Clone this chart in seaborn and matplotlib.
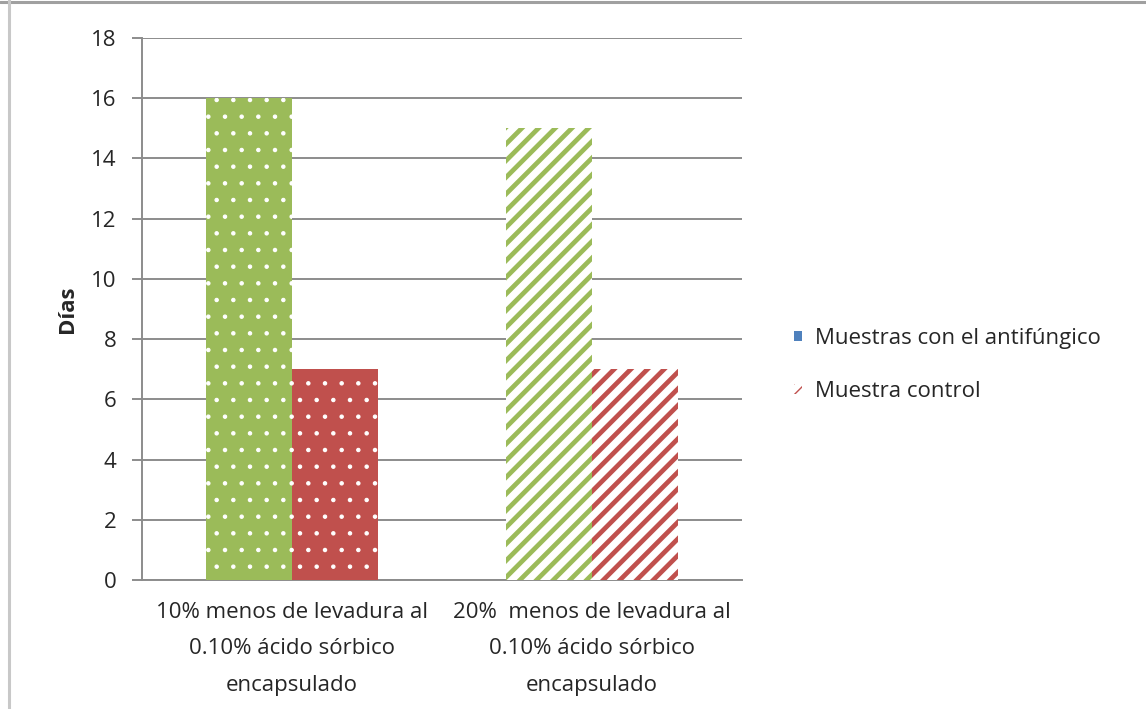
import matplotlib
matplotlib.use("Agg")
import matplotlib.pyplot as plt
from matplotlib.patches import Patch
from matplotlib.lines import Line2D
import seaborn as sns
import pandas as pd

# Data
categories = [
    "10% menos de levadura al\n0.10% ácido sórbico\nencapsulado",
    "20%  menos de levadura al\n0.10% ácido sórbico\nencapsulado",
]
series = ["Muestras con el antifúngico", "Muestra control"]
antifungico = [16, 15]
control = [7, 7]
y_ticks = [0, 2, 4, 6, 8, 10, 12, 14, 16, 18]
y_label = "Días"

green = "#9BBB59"
red = "#C0504D"
blue = "#4F81BD"
grid_gray = "#8C8C8C"
text_col = "#262626"
fs = 16

df = pd.DataFrame({
    "grupo": categories * 2,
    "serie": [series[0]] * 2 + [series[1]] * 2,
    "dias": antifungico + control,
})

sns.set_theme(style="white")
plt.rcParams["font.family"] = ["Open Sans", "DejaVu Sans"]

fig = plt.figure(figsize=(11.46, 7.09), dpi=100)
ax = fig.add_axes([0.1239, 0.1819, 0.5236, 0.7645])

sns.barplot(data=df, x="grupo", y="dias", hue="serie", hue_order=series,
            order=categories, palette=[green, red], width=0.575,
            legend=False, ax=ax, zorder=3, saturation=1)

# Fill styles: first category dotted, second striped
colors = [green, red]
for i, p in enumerate(ax.patches):
    hue_idx = i // 2
    cat_idx = i % 2
    c = colors[hue_idx]
    p.set_linewidth(0)
    if cat_idx == 0:
        p.set_facecolor(c)
        p.set_edgecolor("white")
        p.set_hatch(".")
        if hasattr(p, "set_hatch_linewidth"):
            p.set_hatch_linewidth(0.8)
    else:
        p.set_facecolor("white")
        p.set_edgecolor(c)
        p.set_hatch("//")
        if hasattr(p, "set_hatch_linewidth"):
            p.set_hatch_linewidth(3.4)

ax.set_ylim(0, 18)
ax.set_xlim(-0.5, 1.5)
ax.set_yticks(y_ticks)
ax.set_yticklabels([str(t) for t in y_ticks])
ax.yaxis.grid(True, color=grid_gray, linewidth=1.4, zorder=0)
ax.set_axisbelow(True)

for side in ["top", "right"]:
    ax.spines[side].set_visible(False)
for side in ["left", "bottom"]:
    ax.spines[side].set_color(grid_gray)
    ax.spines[side].set_linewidth(1.4)

ax.tick_params(axis="y", which="major", left=True, length=7, width=1.4,
               color=grid_gray, direction="out", labelsize=fs,
               labelcolor=text_col, pad=11.5)
ax.tick_params(axis="x", bottom=False, labelsize=fs, labelcolor=text_col, pad=9.5)
for lbl in ax.get_xticklabels():
    lbl.set_linespacing(1.98)
    lbl.set_horizontalalignment("center")

ax.set_xlabel("")
ax.set_ylabel(y_label, fontsize=fs, fontweight="bold", color=text_col, labelpad=9)

# Legend
handles = [
    Patch(facecolor=blue, edgecolor=blue, linewidth=0),
    Patch(facecolor="white", edgecolor=red, hatch="///", linewidth=0),
]
leg = fig.legend(handles, series, loc="upper left",
                 bbox_to_anchor=(0.6755, 0.5656), frameon=False,
                 fontsize=fs, handlelength=0.36, handleheight=0.36,
                 handletextpad=0.6, labelspacing=1.44, labelcolor=text_col)

# Outer frame (top and left edges)
fig.add_artist(Line2D([0, 1], [0.9975, 0.9975], transform=fig.transFigure,
                      color="#A0A0A0", linewidth=2.2))
fig.add_artist(Line2D([0.0079, 0.0079], [0, 1], transform=fig.transFigure,
                      color="#C8C8C8", linewidth=2.2))

fig.savefig("out.png", dpi=100, facecolor="white")
